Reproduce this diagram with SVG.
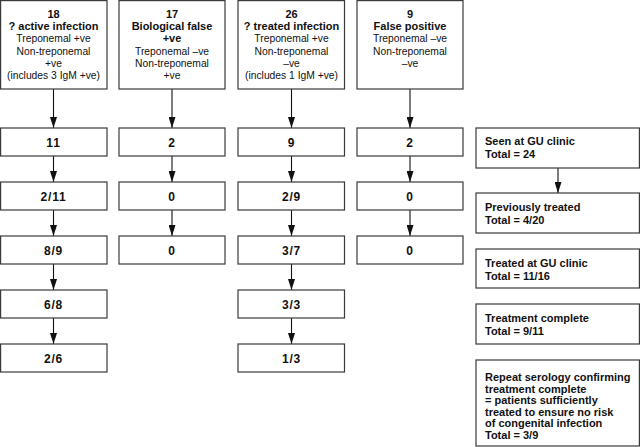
<svg xmlns="http://www.w3.org/2000/svg" width="640" height="447" viewBox="0 0 640 447">
<style>
rect{fill:#fff;stroke:#3a3a3a;stroke-width:1.2}
text{font-family:"Liberation Sans",Arial,sans-serif;fill:#111}
.b{font-weight:bold;font-size:11px}
.r{font-size:10.3px}
.n{font-weight:bold;font-size:12px;letter-spacing:0.8px}
.c{text-anchor:middle}
.ln{stroke:#111;stroke-width:1.1;fill:none}
</style>
<defs>
<marker id="ah" markerWidth="11" markerHeight="7" refX="11" refY="3.5" orient="auto" markerUnits="userSpaceOnUse" viewBox="0 0 11 7">
<path d="M0,0 L11,3.5 L0,7 z" fill="#111"/>
</marker>
</defs>
<g id="connectors">
<path class="ln" d="M53.5,89 V128" marker-end="url(#ah)"/>
<path class="ln" d="M53.5,156 V182" marker-end="url(#ah)"/>
<path class="ln" d="M53.5,210 V236" marker-end="url(#ah)"/>
<path class="ln" d="M53.5,264 V290" marker-end="url(#ah)"/>
<path class="ln" d="M53.5,318 V344" marker-end="url(#ah)"/>
<path class="ln" d="M172,89 V128" marker-end="url(#ah)"/>
<path class="ln" d="M172,156 V182" marker-end="url(#ah)"/>
<path class="ln" d="M172,210 V236" marker-end="url(#ah)"/>
<path class="ln" d="M291.5,89 V128" marker-end="url(#ah)"/>
<path class="ln" d="M291.5,156 V182" marker-end="url(#ah)"/>
<path class="ln" d="M291.5,210 V236" marker-end="url(#ah)"/>
<path class="ln" d="M291.5,264 V290" marker-end="url(#ah)"/>
<path class="ln" d="M291.5,318 V344" marker-end="url(#ah)"/>
<path class="ln" d="M410,89 V128" marker-end="url(#ah)"/>
<path class="ln" d="M410,156 V182" marker-end="url(#ah)"/>
<path class="ln" d="M410,210 V236" marker-end="url(#ah)"/>
<path class="ln" d="M558,168 V193" marker-end="url(#ah)"/>
</g>
<g id="top1">
<rect x="0.6" y="0.6" width="106.4" height="88.4"/>
<text class="b c" x="53.5" y="17.5">18</text>
<text class="b c" x="53.5" y="29.5">? active infection</text>
<text class="r c" x="53.5" y="42">Treponemal +ve</text>
<text class="r c" x="53.5" y="54.5">Non-treponemal</text>
<text class="r c" x="53.5" y="66.5">+ve</text>
<text class="r c" x="53.5" y="79">(includes 3 IgM +ve)</text>
</g>
<g id="top2">
<rect x="119" y="0.6" width="106" height="88.4"/>
<text class="b c" x="172" y="17.5">17</text>
<text class="b c" x="172" y="29.5">Biological false</text>
<text class="b c" x="172" y="42">+ve</text>
<text class="r c" x="172" y="54.5">Treponemal –ve</text>
<text class="r c" x="172" y="66.5">Non-treponemal</text>
<text class="r c" x="172" y="79">+ve</text>
</g>
<g id="top3">
<rect x="238" y="0.6" width="106.5" height="88.4"/>
<text class="b c" x="291.5" y="17.5">26</text>
<text class="b c" x="291.5" y="29.5">? treated infection</text>
<text class="r c" x="291.5" y="42">Treponemal +ve</text>
<text class="r c" x="291.5" y="54.5">Non-treponemal</text>
<text class="r c" x="291.5" y="66.5">–ve</text>
<text class="r c" x="291.5" y="79">(includes 1 IgM +ve)</text>
</g>
<g id="top4">
<rect x="357" y="0.6" width="106" height="88.4"/>
<text class="b c" x="410" y="17.5">9</text>
<text class="b c" x="410" y="29.5">False positive</text>
<text class="r c" x="410" y="42">Treponemal –ve</text>
<text class="r c" x="410" y="54.5">Non-treponemal</text>
<text class="r c" x="410" y="66.5">–ve</text>
</g>
<g id="c1r1"><rect x="0.6" y="128" width="106.4" height="28"/><text class="n c" x="53.5" y="146.5">11</text></g>
<g id="c1r2"><rect x="0.6" y="182" width="106.4" height="28"/><text class="n c" x="53.5" y="200.5">2/11</text></g>
<g id="c1r3"><rect x="0.6" y="236" width="106.4" height="28"/><text class="n c" x="53.5" y="254.5">8/9</text></g>
<g id="c1r4"><rect x="0.6" y="290" width="106.4" height="28"/><text class="n c" x="53.5" y="308.5">6/8</text></g>
<g id="c1r5"><rect x="0.6" y="344" width="106.4" height="28"/><text class="n c" x="53.5" y="362.5">2/6</text></g>
<g id="c2r1"><rect x="119" y="128" width="106" height="28"/><text class="n c" x="172" y="146.5">2</text></g>
<g id="c2r2"><rect x="119" y="182" width="106" height="28"/><text class="n c" x="172" y="200.5">0</text></g>
<g id="c2r3"><rect x="119" y="236" width="106" height="28"/><text class="n c" x="172" y="254.5">0</text></g>
<g id="c3r1"><rect x="238" y="128" width="106.5" height="28"/><text class="n c" x="291.5" y="146.5">9</text></g>
<g id="c3r2"><rect x="238" y="182" width="106.5" height="28"/><text class="n c" x="291.5" y="200.5">2/9</text></g>
<g id="c3r3"><rect x="238" y="236" width="106.5" height="28"/><text class="n c" x="291.5" y="254.5">3/7</text></g>
<g id="c3r4"><rect x="238" y="290" width="106.5" height="28"/><text class="n c" x="291.5" y="308.5">3/3</text></g>
<g id="c3r5"><rect x="238" y="344" width="106.5" height="28"/><text class="n c" x="291.5" y="362.5">1/3</text></g>
<g id="c4r1"><rect x="357" y="128" width="106" height="28"/><text class="n c" x="410" y="146.5">2</text></g>
<g id="c4r2"><rect x="357" y="182" width="106" height="28"/><text class="n c" x="410" y="200.5">0</text></g>
<g id="c4r3"><rect x="357" y="236" width="106" height="28"/><text class="n c" x="410" y="254.5">0</text></g>
<g id="seen"><rect x="476" y="128" width="163.4" height="40"/>
<text class="b" x="485" y="145">Seen at GU clinic</text><text class="b" x="485" y="158">Total = 24</text></g>
<g id="prev"><rect x="476" y="193" width="163.4" height="40"/>
<text class="b" x="485" y="211">Previously treated</text><text class="b" x="485" y="224">Total = 4/20</text></g>
<g id="treated"><rect x="476" y="249" width="163.4" height="39"/>
<text class="b" x="485" y="267">Treated at GU clinic</text><text class="b" x="485" y="280">Total = 11/16</text></g>
<g id="complete"><rect x="476" y="304" width="163.4" height="40"/>
<text class="b" x="485" y="322">Treatment complete</text><text class="b" x="485" y="335">Total = 9/11</text></g>
<g id="repeat"><rect x="476" y="360" width="163.4" height="86"/>
<text class="b" x="485" y="381">Repeat serology confirming</text>
<text class="b" x="485" y="392.5">treatment complete</text>
<text class="b" x="485" y="404">= patients sufficiently</text>
<text class="b" x="485" y="415.5">treated to ensure no risk</text>
<text class="b" x="485" y="427">of congenital infection</text>
<text class="b" x="485" y="438.5">Total = 3/9</text>
</g>
</svg>
